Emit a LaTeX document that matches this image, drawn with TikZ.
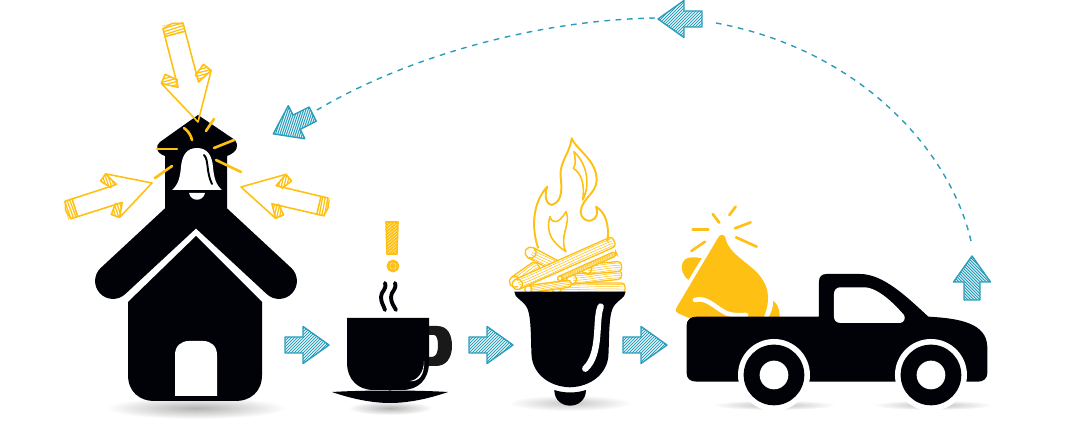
\documentclass[tikz,border=0pt]{standalone}
\usepackage{tikz}

\definecolor{inkblack}{HTML}{000207}
\definecolor{sketchyellow}{HTML}{FFC014}
\definecolor{sketchblue}{HTML}{2A9DBB}

\newcommand{\woodlog}[4]{
  \begin{scope}[shift={(#1)},rotate=#2]
    \fill[white] (0,-#4) rectangle (#3,#4);
    \foreach \g in {-0.65,-0.2,0.25,0.7}
      \draw[sketchyellow,line width=0.3pt] (4,\g*#4) .. controls (#3*0.3,\g*#4+4) and (#3*0.6,\g*#4-4) .. (#3-4,\g*#4);
    \draw[sketchyellow,line width=0.75pt,rounded corners=2pt] (0,-#4) -- (#3,-#4) -- (#3,#4) -- (0,#4);
    \draw[sketchyellow,line width=0.75pt] (0,0) circle[radius=#4];
  \end{scope}
}

\tikzset{
  yellowline/.style={draw=sketchyellow,line width=0.9pt,line join=round},
  ray/.style={draw=sketchyellow,line width=1.5pt,line cap=round},
  dashline/.style={draw=sketchblue,line width=0.8pt,dash pattern=on 3.2pt off 3.2pt},
  bluearrow/.pic={
    \begin{scope}
      \clip (-22,-8) -- (-4,-8) -- (-4,-18.5) -- (22,0) -- (-4,18.5) -- (-4,8) -- (-22,8) -- cycle;
      \foreach \s in {-44,-41,...,44}
        \draw[sketchblue,line width=0.6pt] (\s-20,20) -- (\s+20,-20);
    \end{scope}
    \draw[sketchblue,line width=0.8pt,line join=round] (-22,-8) -- (-4,-8) -- (-4,-18.5) -- (22,0) -- (-4,18.5) -- (-4,8) -- (-22,8) -- cycle;
  },
  yellowarrow/.pic={
    \begin{scope}
      \clip (-103,-11) rectangle (-92,11);
      \foreach \s in {-104,-101,...,-90}
        \draw[sketchyellow,line width=0.7pt] (\s,-12) -- (\s+1,12);
    \end{scope}
    \foreach \d in {1,-1} {
      \begin{scope}
        \clip (-47,26*\d) -- (-55,20*\d) -- (-46,9*\d) -- (-39,10.7*\d) -- cycle;
        \foreach \s in {-60,-57,...,-36}
          \draw[sketchyellow,line width=0.7pt] (\s,6*\d) -- (\s,28*\d);
      \end{scope}
      \draw[yellowline] (-47,26*\d) -- (-55,20*\d) -- (-46,9*\d);
    }
    \draw[yellowline] (0,0) -- (-47,26) -- (-39,10.7) -- (-100,10.5) -- (-103,0) -- (-100,-10.5) -- (-39,-10.7) -- (-47,-26) -- cycle;
    \draw[yellowline] (-92,10.5) -- (-92,-10.5);
  }
}

\begin{document}
\begin{tikzpicture}[x=0.02cm,y=-0.02cm]
  \useasboundingbox (0,0) rectangle (1080,432);

  % ground shadows
  \shade[inner color=black!30,outer color=white] (196,408) ellipse[x radius=90,y radius=11];
  \shade[inner color=black!30,outer color=white] (390,408) ellipse[x radius=42,y radius=7];
  \shade[inner color=black!22,outer color=white] (570,403) ellipse[x radius=62,y radius=8];
  \shade[inner color=black!25,outer color=white] (774,405) ellipse[x radius=62,y radius=5];
  \shade[inner color=black!25,outer color=white] (933,405) ellipse[x radius=60,y radius=5];

  % school with bell tower
  \fill[inkblack] (198,115) -- (235,140) .. controls (239,145) and (238,152) .. (227,156) -- (227,215) -- (165,215) -- (165,156) .. controls (156,153) and (155,146) .. (160,142) -- cycle;
  \draw[inkblack,line width=20.4pt,line cap=round,line join=miter] (113,281) -- (196,204) -- (279,281);
  \fill[inkblack] (128,302) -- (196,236) -- (262,302) -- (262,375) .. controls (262,392) and (250,401) .. (236,401) -- (154,401) .. controls (140,401) and (128,392) .. (128,375) -- cycle;
  \fill[white] (175,396) -- (175,355) .. controls (175,346) and (181,341) .. (189,341) -- (203,341) .. controls (211,341) and (217,346) .. (217,355) -- (217,396) -- cycle;

  % tower bell
  \fill[white] (197,148) .. controls (187,148) and (182,155) .. (181,167) .. controls (180,178) and (178,185) .. (172,190) -- (222,190) .. controls (216,185) and (214,178) .. (213,167) .. controls (212,155) and (207,148) .. (197,148) -- cycle;
  \fill[white] (189,193) .. controls (191,202) and (203,202) .. (205,193) -- cycle;
  \draw[inkblack,line width=1.1pt,line cap=round] (204,155) .. controls (209,160) and (206,172) .. (212,184);

  \draw[ray] (157,149) -- (177,149);
  \draw[ray] (214,148) -- (234,140);
  \draw[ray] (184,128) .. controls (188,131) and (191,135) .. (192,140);
  \draw[ray] (206,131) -- (214,119);
  \draw[ray] (216,160) -- (241,172);
  \draw[ray] (172,166) -- (155,178);

  \pic[rotate=-75.4,scale=0.99] at (198,122) {yellowarrow};
  \pic[rotate=17.8,scale=0.88] at (152,183) {yellowarrow};
  \pic[rotate=166.8,scale=0.87] at (241,187) {yellowarrow};

  % cup with steam
  \begin{scope}
    \clip (386,222) -- (398,222) -- (397,254) -- (387,254) -- cycle;
    \foreach \s in {210,213,...,270}
      \draw[sketchyellow,line width=1pt] (380,\s) -- (404,\s-20);
  \end{scope}
  \draw[yellowline] (386,222) -- (398,222) -- (397,254) -- (387,254) -- cycle;
  \draw[yellowline,line width=1.6pt] (393,266) circle[radius=5];
  \fill[sketchyellow] (393,266) circle[radius=3];

  \draw[inkblack,line width=2.2pt,line cap=round] (385,283) .. controls (387,290) and (381,291) .. (381,297) .. controls (381,303) and (384,306) .. (385,310);
  \draw[inkblack,line width=2.2pt,line cap=round] (395,283) .. controls (397,290) and (391,291) .. (391,297) .. controls (391,303) and (394,306) .. (396,310);
  \fill[even odd rule,black!90!white] (425,326) -- (437,326) .. controls (448,326) and (452,335) .. (452,346) .. controls (452,358) and (446,366) .. (436,366) -- (425,366) -- cycle (425,335) -- (434,335) .. controls (437,335) and (438,340) .. (438,346) .. controls (438,352) and (436,357) .. (432,357) -- (425,357) -- cycle;
  \fill[inkblack] (347,318) -- (429,318) -- (429,362) .. controls (429,380) and (418,390) .. (402,390) -- (374,390) .. controls (358,390) and (347,380) .. (347,362) -- cycle;
  \fill[white] (424,361) .. controls (424,372) and (418,380) .. (410,381) .. controls (418,382) and (425,376) .. (424,361) -- cycle;
  \fill[inkblack] (332,392) .. controls (365,390) and (415,390) .. (448,392) .. controls (425,400) and (405,403) .. (390,403) .. controls (375,403) and (355,400) .. (332,392) -- cycle;

  % fire and logs
  \begin{scope}[shift={(460,130)},scale=0.3333]
    \begin{scope}
      \clip (140,300) rectangle (510,485);
      \woodlog{212,368}{-28}{95}{17}
      \woodlog{165,455}{35}{85}{17}
      \woodlog{290,474}{0}{205}{15}
      \woodlog{335,448}{6}{150}{15}
      \woodlog{380,418}{5}{105}{15}
      \woodlog{300,445}{24}{185}{7}
      \woodlog{172,463}{24}{318}{16}
      \woodlog{205,478}{8}{130}{11}
    \end{scope}
    \draw[yellowline,line width=1.1pt] (235,355) .. controls (215,300) and (215,220) .. (262,170) .. controls (250,200) and (262,225) .. (275,225) .. controls (310,215) and (305,170) .. (302,140) .. controls (298,95) and (330,70) .. (335,25) .. controls (350,60) and (410,90) .. (410,150) .. controls (410,190) and (365,205) .. (362,245) .. controls (362,265) and (380,275) .. (392,272) .. controls (412,268) and (415,245) .. (408,230) .. controls (435,245) and (450,285) .. (442,335);
    \draw[yellowline] (342,65) .. controls (345,85) and (350,100) .. (340,115) .. controls (365,130) and (375,165) .. (368,210) .. controls (390,170) and (385,105) .. (342,65) -- cycle;
    \draw[yellowline] (270,260) .. controls (275,280) and (295,285) .. (318,245) .. controls (335,280) and (295,320) .. (318,365) .. controls (280,340) and (255,310) .. (270,260) -- cycle;

    % big bell
    \fill[inkblack] (163,485) -- (497,485) .. controls (497,505) and (470,510) .. (458,535) .. controls (445,565) and (448,640) .. (445,680) .. controls (440,730) and (395,770) .. (330,772) .. controls (265,770) and (220,730) .. (215,680) .. controls (212,640) and (215,565) .. (202,535) .. controls (190,510) and (163,505) .. (163,485) -- cycle;
    \fill[inkblack] (283,780) .. controls (310,790) and (350,790) .. (378,780) .. controls (378,810) and (355,827) .. (330,827) .. controls (305,827) and (283,810) .. (283,780) -- cycle;
    \draw[white,line width=3.7pt,line cap=round] (422,530) .. controls (405,570) and (425,670) .. (376,716);
  \end{scope}

  % megaphone and truck
  \begin{scope}[shift={(670,200)},scale=0.3333]
    \fill[sketchyellow] (55,240) .. controls (25,215) and (30,172) .. (65,172) .. controls (75,172) and (85,172) .. (95,175) -- cycle;
    \fill[sketchyellow] (310,302) .. controls (330,320) and (330,340) .. (328,360) -- (290,360) .. controls (305,340) and (310,320) .. (310,302) -- cycle;
    \fill[sketchyellow] (145,112) .. controls (150,102) and (162,102) .. (166,112) .. controls (175,165) and (245,190) .. (275,235) .. controls (300,270) and (300,310) .. (278,360) -- (70,360) -- (25,340) .. controls (15,335) and (15,328) .. (20,322) -- cycle;
    \draw[white,line width=2.6pt,line cap=round] (75,300) .. controls (110,290) and (130,320) .. (170,340) .. controls (190,348) and (210,345) .. (228,345);
    \draw[ray] (68,88) -- (115,88);
    \draw[ray] (64,153) -- (105,125);
    \draw[ray] (128,42) -- (148,68);
    \draw[ray] (178,45) -- (197,20);
    \draw[ray] (195,85) -- (242,67);
    \draw[ray] (198,112) -- (260,140);

    \fill[inkblack] (80,350) -- (447,350) -- (447,245) .. controls (447,230) and (455,222) .. (470,222) -- (570,222) .. controls (640,222) and (710,290) .. (775,350) .. controls (870,355) and (950,370) .. (952,440) -- (952,520) .. controls (952,535) and (940,545) .. (925,545) -- (80,545) .. controls (60,545) and (50,535) .. (50,520) -- (50,375) .. controls (50,360) and (62,350) .. (80,350) -- cycle;
    \fill[white] (510,262) -- (585,262) .. controls (630,265) and (680,320) .. (702,345) .. controls (708,355) and (702,368) .. (690,369) -- (512,369) .. controls (498,369) and (492,360) .. (492,350) -- (492,282) .. controls (492,270) and (500,262) .. (510,262) -- cycle;
    \foreach \cx in {312,783} {
      \fill[white] (\cx,525) circle[radius=108];
      \fill[inkblack] (\cx,525) circle[radius=91];
      \fill[white] (\cx,525) circle[radius=43];
    }
  \end{scope}

  % arrows between the steps
  \pic at (307,345) {bluearrow};
  \pic at (491,345) {bluearrow};
  \pic at (645,345) {bluearrow};
  \pic[rotate=90] at (972,278) {bluearrow};
  \pic[rotate=180] at (680,19) {bluearrow};
  \pic[rotate=206.6] at (293,124) {bluearrow};

  \coordinate (truckend) at (971,241);
  \coordinate (topright) at (716,23);
  \coordinate (topleft) at (655,18);
  \coordinate (schoolend) at (317,110);
  \draw[dashline] (truckend) .. controls (950,150) and (860,50) .. (topright);
  \draw[dashline] (topleft) .. controls (540,20) and (410,55) .. (schoolend);
\end{tikzpicture}
\end{document}
